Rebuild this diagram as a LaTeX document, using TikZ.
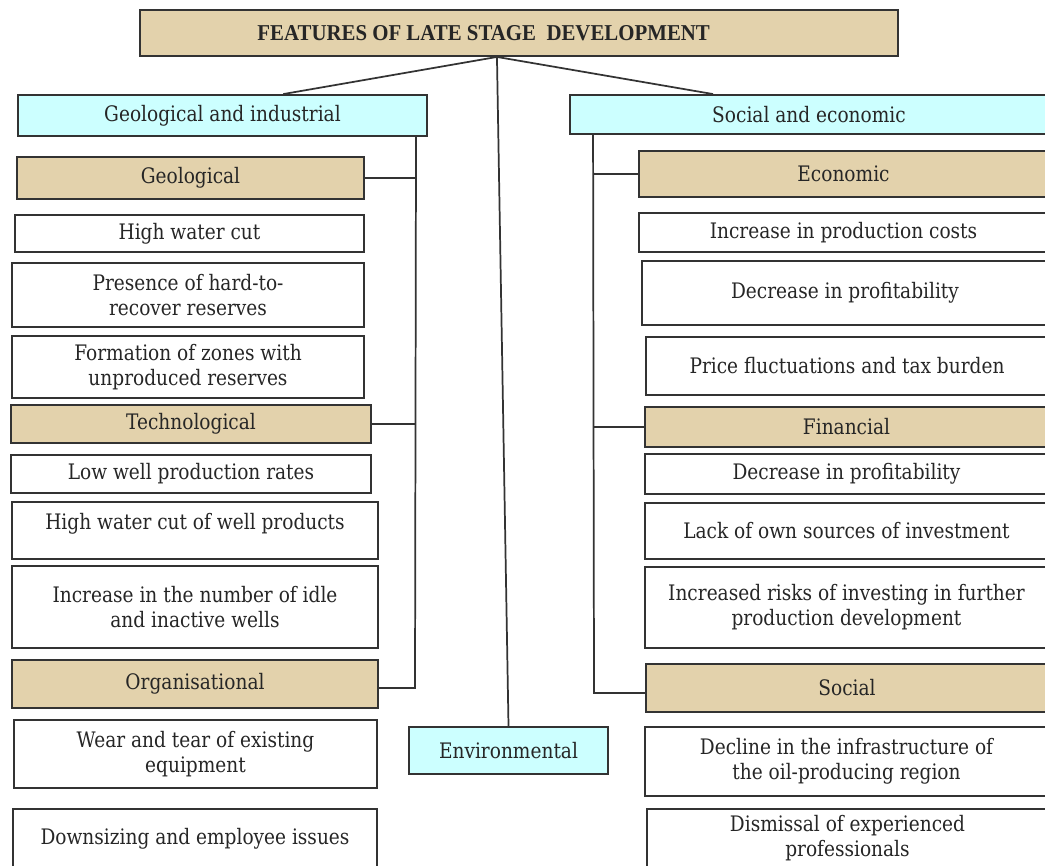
\documentclass[tikz,border=0pt]{standalone}
\usepackage{fontspec}
\usetikzlibrary{calc}
\newfontfamily\bodyfont[FakeStretch=0.87]{DejaVu Serif}
\newfontfamily\titlefont[FakeStretch=0.92]{Liberation Serif}
\definecolor{tanfill}{RGB}{227,210,172}
\definecolor{cyanfill}{RGB}{204,255,255}
\definecolor{edgegray}{RGB}{51,51,51}
\definecolor{ink}{RGB}{38,38,38}

\tikzset{
	itembox/.style={draw=edgegray, line width=1.4pt, fill=white, text=ink, align=center, inner sep=0pt, font={\bodyfont\fontsize{16}{18.75}\selectfont}},
	catbox/.style={itembox, fill=tanfill},
	topbox/.style={itembox, fill=cyanfill},
	wh/.style 2 args={minimum width=#1*0.75pt, minimum height=#2*0.75pt},
	link/.style={draw=edgegray, line width=1.3pt}
}

\begin{document}
\begin{tikzpicture}[x=0.75pt,y=0.75pt,yscale=-1,xscale=1]
	\useasboundingbox (0,0) rectangle (1045,865);
	\clip (0,0) rectangle (1045,865);
	% title and the three groups
	\node [catbox, wh={758}{46}, font={\titlefont\bfseries\fontsize{17}{19}\selectfont}] (title) at (519,33) {FEATURES OF LATE STAGE\ \ DEVELOPMENT\hspace*{53pt}};
	\node [topbox, wh={409}{41}] (gi) at (222.5,115.5) {Geological and industrial};
	\node [topbox, wh={478}{39}] (se) at (809,114.5) {Social and economic};
	\node [topbox, wh={199}{47}] (env) at (508.5,750.5) {Environmental};
	% left column
	\node [catbox, wh={347}{42}] (geo) at (190.5,178) {Geological};
	\node [itembox, wh={349}{37}] (geo1) at (189.5,233.5) {High water cut};
	\node [itembox, wh={352}{64}] (geo2) at (188,295) {Presence of hard-to-\\recover reserves};
	\node [itembox, wh={352}{62}] (geo3) at (188,367) {Formation of zones with\\unproduced reserves};
	\node [catbox, wh={360}{38}] (tech) at (191,424) {Technological};
	\node [itembox, wh={360}{38}] (tech1) at (191,474) {Low well production rates};
	\node [itembox, wh={366}{57}, text depth=14pt] (tech2) at (195,530.5) {High water cut of well products};
	\node [itembox, wh={366}{82}] (tech3) at (195,607) {Increase in the number of idle\\and inactive wells};
	\node [catbox, wh={366}{48}] (org) at (195,684) {Organisational};
	\node [itembox, wh={363}{68}] (org1) at (195.5,754) {Wear and tear of existing\\equipment};
	\node [itembox, wh={364}{59}] (org2) at (195,838.5) {Downsizing and employee issues};
	% right column
	\node [catbox, wh={409}{46}] (eco) at (843.5,174) {Economic};
	\node [itembox, wh={409}{39}] (eco1) at (843.5,232.5) {Increase in production costs};
	\node [itembox, wh={406}{64}] (eco2) at (845,293) {Decrease in profitability};
	\node [itembox, wh={402}{58}] (eco3) at (847,366) {Price fluctuations and tax burden};
	\node [catbox, wh={403}{40}] (fin) at (846.5,427) {Financial};
	\node [itembox, wh={403}{40}] (fin1) at (846.5,474) {Decrease in profitability};
	\node [itembox, wh={403}{56}] (fin2) at (846.5,531) {Lack of own sources of investment};
	\node [itembox, wh={403}{81}] (fin3) at (846.5,607.5) {Increased risks of investing in further\\production development};
	\node [catbox, wh={402}{48}] (soc) at (847,688) {Social};
	\node [itembox, wh={403}{69}] (soc1) at (846.5,761.5) {Decline in the infrastructure of\\the oil-producing region};
	\node [itembox, wh={401}{59}] (soc2) at (847.5,838.5) {Dismissal of experienced\\professionals};
	% connectors
	\coordinate (hub) at ($(title.south west)!0.471!(title.south east)$);
	\draw [link] (hub) -- ($(gi.north west)!0.648!(gi.north east)$);
	\draw [link] (hub) -- ($(se.north west)!0.3!(se.north east)$);
	\draw [link] (hub) -- (env.north);
	\coordinate (ltop) at ($(gi.south west)!0.971!(gi.south east)$);
	\coordinate (lbot) at (415,688);
	\draw [link] (ltop) -- (lbot) -- (lbot -| org.east);
	\draw [link] (geo.east) -- (geo.east -| ltop);
	\draw [link] (tech.east) -- (tech.east -| ltop);
	\coordinate (rtop) at ($(se.south west)!0.05!(se.south east)$);
	\coordinate (rbot) at (594,693);
	\draw [link] (rtop) -- (rbot) -- (rbot -| soc.west);
	\draw [link] (eco.west) -- (eco.west -| rtop);
	\draw [link] (fin.west) -- (fin.west -| rtop);
\end{tikzpicture}
\end{document}
